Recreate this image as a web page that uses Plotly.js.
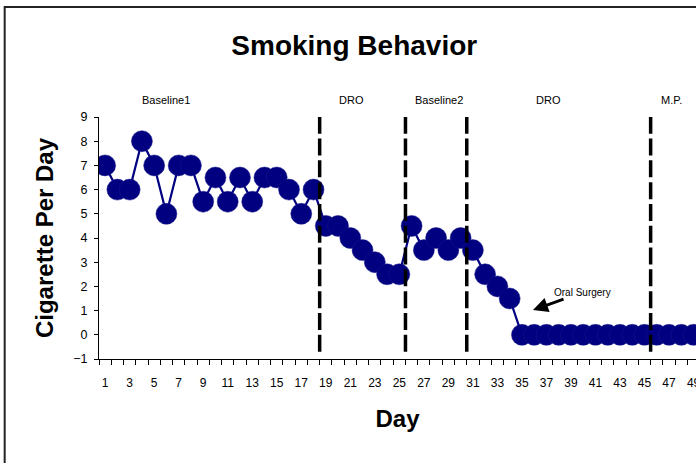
<!DOCTYPE html>
<html>
<head>
<meta charset="utf-8">
<script src="https://cdn.plot.ly/plotly-3.0.1.min.js"></script>
<style>html,body{margin:0;padding:0;background:#fff;}#chart{width:696px;height:463px;}</style>
</head>
<body>
<div id="chart"></div>
<script>
// Data
var days = [1,2,3,4,5,6,7,8,9,10,11,12,13,14,15,16,17,18,19,20,21,22,23,24,25,26,27,28,29,30,31,32,33,34,35,36,37,38,39,40,41,42,43,44,45,46,47,48,49];
var cigarettes = [7,6,6,8,7,5,7,7,5.5,6.5,5.5,6.5,5.5,6.5,6.5,6,5,6,4.5,4.5,4,3.5,3,2.5,2.5,4.5,3.5,4,3.5,4,3.5,2.5,2,1.5,0,0,0,0,0,0,0,0,0,0,0,0,0,0,0];
var xTickVals = [1,3,5,7,9,11,13,15,17,19,21,23,25,27,29,31,33,35,37,39,41,43,45,47,49];
var xTickText = ['1','3','5','7','9','11','13','15','17','19','21','23','25','27','29','31','33','35','37','39','41','43','45','47','49'];
var phaseChanges = [18.5, 25.5, 30.5, 45.5];
var phaseLabels = ['Baseline1','DRO','Baseline2','DRO','M.P.'];
var phaseLabelX = [6.0, 21.1, 28.2, 37.2, 47.2];
var eventLabel = 'Oral Surgery';
var eventX = 35.9, eventY = 1.02;

var FONT = 'Liberation Sans, Arial, Helvetica, sans-serif';

var trace = {
  x: days, y: cigarettes, type: 'scatter', mode: 'lines+markers',
  line: {color: '#000080', width: 2.2},
  marker: {color: '#000080', size: 21, line: {color: '#1a1a8c', width: 0.5}},
  cliponaxis: true, hoverinfo: 'x+y'
};

var shapes = phaseChanges.map(function(px){
  return {type:'line', xref:'x', yref:'y', x0:px, x1:px, y0:-0.7, y1:9,
          line:{color:'#000', width:3.5, dash:'17px,4.8px'}, layer:'above'};
});
// chart area frame
shapes.push({type:'rect', xref:'paper', yref:'paper', x0:-0.158, x1:1.2, y0:-0.5, y1:1.4545,
  line:{color:'#222', width:2}, fillcolor:'rgba(0,0,0,0)', layer:'below'});

var annotations = phaseLabels.map(function(t,i){
  return {text:t, x:phaseLabelX[i], xref:'x', y:1.07, yref:'paper', showarrow:false,
          xanchor:'center', yanchor:'middle', font:{family:FONT, size:11, color:'#000'}};
});
annotations.push({text:eventLabel, x:eventX, y:eventY, xref:'x', yref:'y', showarrow:true,
  ax:50, ay:-18, arrowhead:2, arrowsize:1, arrowwidth:3, arrowcolor:'#000',
  font:{family:FONT, size:10, color:'#000'}});

var layout = {
  width: 696, height: 463,
  margin: {l: 99, r: 0, t: 117, b: 104},
  paper_bgcolor: '#fff', plot_bgcolor: '#fff',
  showlegend: false,
  title: {text: 'Smoking Behavior', x: 0.509, xref: 'container', xanchor: 'center',
          y: 0.903, yref: 'container', yanchor: 'middle',
          font: {family: FONT, size: 28, color: '#000', weight: 'bold'}},
  xaxis: {
    range: [0.5, 49.2], tickmode: 'array', tickvals: xTickVals, ticktext: xTickText,
    ticks: '', showline: true, linecolor: '#000', linewidth: 1, showgrid: false, zeroline: false,
    tickfont: {family: FONT, size: 12, color: '#000'}, ticklabelstandoff: 13, ticklabeloverflow: 'allow',
    minor: {ticks: 'outside', tickmode: 'linear', tick0: 0.5, dtick: 1, ticklen: 5, tickcolor: '#000', tickwidth: 1, showgrid: false},
    title: {text: 'Day', font: {family: FONT, size: 24, color: '#000', weight: 'bold'}, standoff: 20},
    fixedrange: true
  },
  yaxis: {
    range: [-1, 9], tickmode: 'linear', tick0: -1, dtick: 1,
    ticks: 'outside', ticklen: 4, tickcolor: '#000', tickwidth: 1,
    showline: true, linecolor: '#000', linewidth: 1, showgrid: false, zeroline: false,
    tickfont: {family: FONT, size: 12.5, color: '#000'}, ticklabelstandoff: 4,
    title: {text: 'Cigarette Per Day', font: {family: FONT, size: 24, color: '#000', weight: 'bold'}, standoff: 12},
    fixedrange: true
  },
  shapes: shapes,
  annotations: annotations
};

Plotly.newPlot('chart', [trace], layout, {displayModeBar: false, staticPlot: true});
</script>
</body>
</html>
